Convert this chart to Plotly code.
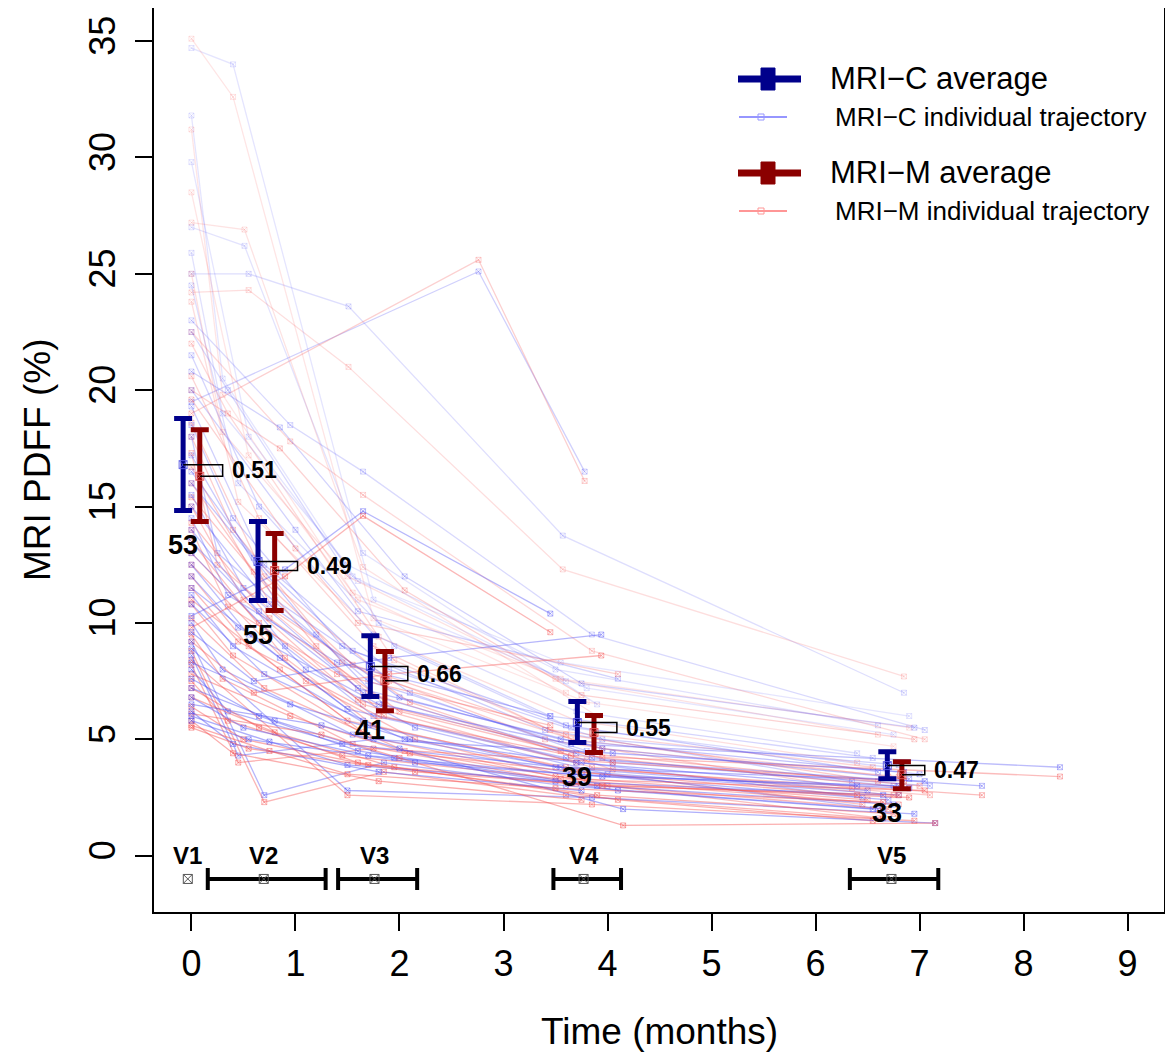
import plotly.graph_objects as go

# Individual trajectories: months since V1 and PDFF (%) by MRI-C and MRI-M (one row per patient)
visit_months = [
    [0, 0.40, 1.75, 3.80, 6.75],
    [0, 0.30, 1.55, 3.60],
    [0, 0.55, 1.60, 3.55, 6.90],
    [0, 0.51, 1.65, 3.90],
    [0, 0.55, 1.51, 3.57, 6.85],
    [0, 2.76, 3.78],
    [0, 0.30, 1.50, 3.50, 6.60],
    [0, 0.45, 1.80, 3.70, 6.40],
    [0, 0.95, 1.65, 3.85, 7.05],
    [0, 0.35, 1.95, 3.65, 6.70],
    [0, 0.65, 1.75, 3.45, 6.55],
    [0, 0.85, 2.05, 3.75, 6.95],
    [0, 1.00, 1.60, 4.10],
    [0, 0.70, 1.90, 3.95, 6.80],
    [0, 0.40, 1.45, 3.40, 6.35],
    [0, 0.25, 1.70, 3.80],
    [0, 0.80, 2.10, 4.05, 7.10],
    [0, 0.60, 1.55, 3.60, 6.60],
    [0, 1.20, 1.85, 3.70],
    [0, 0.50, 1.65, 3.85, 6.75],
    [0, 0.75, 2.00, 3.55, 7.00],
    [0, 0.35, 1.40, 3.45],
    [0, 0.90, 1.75, 3.75, 6.45],
    [0, 0.65, 1.60, 3.95, 6.90],
    [0, 1.10, 2.15, 4.00, 6.65],
    [0, 0.55, 1.50, 3.60, 7.60],
    [0, 0.45, 1.80, 3.65, 8.35],
    [0, 0.85, 1.65],
    [0, 0.40, 1.70, 3.50, 6.50],
    [0, 0.70, 2.05, 3.80, 6.80],
    [0, 0.90, 1.65, 3.45],
    [0, 0.30, 1.55, 3.70, 6.70],
    [0, 0.60, 1.90, 3.94],
    [0, 0.70, 1.85, 3.60, 6.60],
    [0, 1.50, 3.85, 6.95],
    [0, 0.45, 1.75, 4.05, 6.85],
    [0, 0.95, 2.10, 3.70, 6.40],
    [0, 0.35, 1.45, 3.55, 7.05],
    [0, 0.65, 1.60, 3.90, 6.75],
    [0, 0.80, 1.95, 4.10, 6.55],
    [0, 0.50, 1.70, 3.65, 6.90],
    [0, 1.25, 2.00, 4.15, 7.15],
    [0, 0.40, 1.80, 3.75],
    [0, 0.75, 1.50, 3.50, 6.65],
    [0, 0.55, 2.15, 3.95, 6.80],
]
pdff_c = [
    [34.7, 34.0, 11.0, 7.2, 5.2],
    [31.8, 20.5, 12.0, 7.5],
    [29.8, 18.0, 11.8, 8.3, 6.0],
    [27.0, 26.2, 13.0, 6.5],
    [25.0, 25.0, 23.6, 13.75, 7.0],
    [19.5, 25.1, 16.5],
    [25.9, 19.0, 12.5, 8.0, 5.6],
    [24.5, 16.0, 10.0, 6.2, 4.4],
    [23.0, 18.5, 16.5, 9.5, 5.4],
    [22.5, 20.0, 9.0, 5.5, 3.8],
    [21.5, 15.0, 9.5, 6.0, 4.2],
    [20.8, 18.4, 12.0, 7.4, 5.5],
    [20.0, 14.0, 10.5, 7.6],
    [19.3, 12.5, 8.0, 5.0, 3.9],
    [18.5, 14.5, 9.0, 5.4, 3.2],
    [18.0, 13.0, 7.5, 4.5],
    [17.2, 11.0, 7.0, 4.0, 3.0],
    [16.5, 12.8, 8.8, 5.6, 3.6],
    [16.0, 9.5, 6.5, 4.4],
    [15.5, 11.5, 7.0, 4.2, 3.0],
    [15.0, 10.8, 6.8, 5.0, 3.5],
    [14.5, 11.2, 8.3, 6.0],
    [14.0, 9.0, 6.0, 4.0, 2.5],
    [13.5, 10.5, 7.2, 4.6, 3.3],
    [13.0, 8.0, 5.5, 3.5, 2.0],
    [12.5, 9.5, 6.3, 4.2, 3.0],
    [12.0, 9.8, 6.5, 4.8, 3.8],
    [11.5, 8.5, 5.8],
    [11.2, 9.0, 5.6, 3.8, 2.8],
    [10.8, 7.8, 5.0, 3.6, 2.6],
    [10.3, 12.3, 14.8, 10.4],
    [10.0, 8.0, 5.2, 3.5, 2.4],
    [9.6, 7.5, 8.5, 9.5],
    [9.2, 2.6, 4.0, 3.0, 2.0],
    [8.9, 2.8, 2.5, 1.8],
    [8.6, 4.3, 5.0, 4.4, 3.6],
    [8.3, 6.5, 5.0, 4.0, 3.0],
    [8.0, 6.2, 4.8, 3.8, 3.2],
    [7.6, 6.0, 4.5, 3.0, 2.2],
    [7.2, 5.8, 4.2, 2.8, 2.0],
    [6.8, 5.5, 4.3, 3.5, 2.9],
    [6.5, 5.6, 4.6, 2.0, 1.4],
    [6.2, 4.8, 3.6, 2.8],
    [6.0, 4.9, 3.9, 3.2, 2.6],
    [5.8, 5.0, 4.0, 3.4, 3.0],
]
pdff_m = [
    [35.1, 32.6, 10.2, 6.6, 4.7],
    [31.2, 19.8, 11.3, 7.0],
    [28.5, 17.2, 11.0, 7.6, 5.5],
    [27.2, 26.9, 12.4, 6.0],
    [24.2, 24.3, 21.0, 12.3, 7.7],
    [19.0, 25.6, 16.1],
    [25.0, 18.2, 12.0, 7.6, 5.2],
    [23.8, 15.2, 9.4, 5.8, 4.0],
    [22.5, 17.8, 15.5, 8.8, 5.0],
    [22.0, 19.0, 8.4, 5.0, 3.4],
    [20.6, 14.5, 9.0, 5.4, 3.8],
    [20.0, 17.5, 11.4, 6.9, 5.0],
    [19.6, 13.2, 10.0, 7.8],
    [18.6, 12.0, 7.5, 4.6, 3.4],
    [18.0, 14.0, 8.3, 5.0, 2.9],
    [17.3, 12.5, 7.0, 4.1],
    [16.7, 10.5, 6.6, 3.7, 2.6],
    [16.0, 12.2, 8.2, 5.2, 3.2],
    [15.4, 9.0, 6.0, 4.0],
    [15.0, 11.0, 6.5, 3.8, 2.6],
    [14.3, 10.2, 6.2, 4.5, 3.0],
    [14.0, 10.7, 7.8, 5.6],
    [13.5, 8.5, 5.6, 3.6, 2.2],
    [13.0, 10.0, 6.7, 4.2, 2.9],
    [12.5, 7.5, 5.0, 3.0, 1.6],
    [12.0, 9.0, 5.8, 3.8, 2.6],
    [11.5, 9.2, 6.0, 4.3, 3.4],
    [11.0, 8.0, 5.3],
    [10.8, 8.6, 5.1, 3.4, 2.4],
    [10.2, 7.2, 4.5, 3.2, 2.2],
    [9.8, 12.0, 14.6, 9.6],
    [9.5, 7.6, 4.8, 3.1, 2.0],
    [9.2, 7.0, 7.8, 8.6],
    [8.8, 2.3, 3.6, 2.6, 1.6],
    [8.4, 2.6, 2.2, 1.5],
    [8.2, 4.0, 4.6, 4.0, 3.2],
    [7.8, 6.0, 4.4, 3.6, 2.6],
    [7.5, 5.8, 4.3, 3.3, 2.8],
    [7.2, 5.5, 4.0, 2.6, 1.8],
    [6.8, 5.3, 3.8, 2.4, 1.5],
    [6.4, 5.0, 3.9, 3.1, 2.5],
    [6.1, 5.2, 4.2, 1.3, 1.4],
    [5.8, 4.4, 3.2, 2.4],
    [5.6, 4.5, 3.5, 2.9, 2.3],
    [5.5, 4.6, 3.6, 3.0, 2.6],
]

# Group averages with error bars at each visit
avg_x_c = [-0.08, 0.64, 1.72, 3.71, 6.69]
avg_x_m = [0.08, 0.80, 1.86, 3.87, 6.83]
mean_c = [16.80, 12.64, 8.13, 5.72, 3.87]
low_c = [14.83, 10.96, 6.84, 4.86, 3.31]
high_c = [18.78, 14.36, 9.45, 6.62, 4.47]
mean_m = [16.30, 12.25, 7.52, 5.29, 3.48]
low_m = [14.36, 10.53, 6.23, 4.43, 2.88]
high_m = [18.30, 13.84, 8.77, 6.02, 4.04]
icc_labels = ['0.51', '0.49', '0.66', '0.55', '0.47']
n_labels = ['53', '55', '41', '39', '33']

# Visit windows shown along the bottom (V1 has no window)
visit_names = ['V1', 'V2', 'V3', 'V4', 'V5']
visit_mid = [-0.035, 0.695, 1.76, 3.77, 6.73]
window_mid = [0.695, 1.76, 3.77, 6.73]
window_lo = [0.157, 1.41, 3.48, 6.33]
window_hi = [1.29, 2.17, 4.13, 7.18]

FONT = 'Liberation Sans'
BLUE_DARK = '#00008B'
RED_DARK = '#8B0000'

fig = go.Figure()

# individual trajectories, paler when the baseline is higher
for t, c, m in zip(visit_months, pdff_c, pdff_m):
    a = max(0.15, min(0.48, 0.56 - 0.015 * c[0]))
    for vals, rgb in ((c, '80,80,245'), (m, '245,80,80')):
        col = f'rgba({rgb},{a:.2f})'
        fig.add_trace(go.Scatter(
            x=t, y=vals, mode='lines+markers',
            line=dict(color=col, width=1.3),
            marker=dict(symbol='square-x-open', size=5, color=col, line=dict(width=1, color=col)),
            showlegend=False, hoverinfo='skip'))

# averages with error bars
for xs, mu, lo, hi, col, mcol in ((avg_x_c, mean_c, low_c, high_c, BLUE_DARK, 'rgba(90,90,230,0.9)'),
                                  (avg_x_m, mean_m, low_m, high_m, RED_DARK, 'rgba(230,90,90,0.9)')):
    fig.add_trace(go.Scatter(
        x=xs, y=mu, mode='markers',
        marker=dict(symbol='square-x-open', size=8, color=mcol, line=dict(width=1, color=mcol)),
        error_y=dict(type='data', symmetric=False,
                     array=[h - v for h, v in zip(hi, mu)],
                     arrayminus=[v - l for v, l in zip(mu, lo)],
                     color=col, thickness=5, width=9),
        showlegend=False, hoverinfo='skip'))

# brackets joining the two averages, with agreement value and count
gap = 0.22
for i in range(5):
    xr = avg_x_m[i] + gap
    fig.add_trace(go.Scatter(
        x=[avg_x_c[i], xr, xr, avg_x_m[i]],
        y=[mean_c[i], mean_c[i], mean_m[i], mean_m[i]],
        mode='lines', line=dict(color='black', width=1.5),
        showlegend=False, hoverinfo='skip'))
    fig.add_annotation(x=xr, y=(mean_c[i] + mean_m[i]) / 2, text=f'<b>{icc_labels[i]}</b>',
                       showarrow=False, xanchor='left', yanchor='middle', xshift=7,
                       font=dict(family=FONT, size=23, color='black'))
    fig.add_annotation(x=avg_x_c[i], y=low_c[i], text=f'<b>{n_labels[i]}</b>',
                       showarrow=False, xanchor='center', yanchor='middle', yshift=-34,
                       font=dict(family=FONT, size=27, color='black'))

# visit windows
fig.add_trace(go.Scatter(
    x=window_mid, y=[-1.0] * len(window_mid), mode='markers',
    marker=dict(size=1, color='rgba(0,0,0,0)'),
    error_x=dict(type='data', symmetric=False,
                 array=[h - c for h, c in zip(window_hi, window_mid)],
                 arrayminus=[c - l for l, c in zip(window_lo, window_mid)],
                 color='black', thickness=4, width=11),
    showlegend=False, hoverinfo='skip'))
fig.add_trace(go.Scatter(
    x=visit_mid, y=[-1.0] * len(visit_mid), mode='markers',
    marker=dict(symbol='square-x-open', size=9, color='#555555', line=dict(width=1, color='#555555')),
    showlegend=False, hoverinfo='skip'))
for name, xm in zip(visit_names, visit_mid):
    fig.add_annotation(x=xm, y=0, text=f'<b>{name}</b>', showarrow=False,
                       xanchor='center', yanchor='middle',
                       font=dict(family=FONT, size=24, color='black'))

# the page puts the figure 8 px in from the top-left corner, so size the figure to fit
W, H, OFF = 1165, 1049, 8
L, R, T, B = 154 - OFF, 1164 - OFF, 0, 912 - OFF


def px(x):
    # screen x -> paper x
    return (x - OFF - L) / (R - L)


def py(y):
    # screen y -> paper y
    return (B - (y - OFF)) / (B - T)


# hand-made legend
legend_rows = [
    ('MRI\u2212C average', BLUE_DARK, True, 79, 31),
    ('MRI\u2212C individual trajectory', 'rgb(150,150,255)', False, 117, 26),
    ('MRI\u2212M average', RED_DARK, True, 173, 31),
    ('MRI\u2212M individual trajectory', 'rgb(255,150,150)', False, 211, 26),
]
for label, col, thick, y, fs in legend_rows:
    if thick:
        fig.add_shape(type='line', xref='paper', yref='paper', x0=px(738), x1=px(801), y0=py(y), y1=py(y),
                      line=dict(color=col, width=7))
        fig.add_shape(type='rect', xref='paper', yref='paper', x0=px(761), x1=px(775),
                      y0=py(y + 11), y1=py(y - 11), fillcolor=col, line=dict(color=col, width=1))
        tx = 828
    else:
        fig.add_shape(type='line', xref='paper', yref='paper', x0=px(739), x1=px(787), y0=py(y), y1=py(y),
                      line=dict(color=col, width=2))
        fig.add_shape(type='rect', xref='paper', yref='paper', x0=px(758), x1=px(764),
                      y0=py(y + 3), y1=py(y - 3), line=dict(color=col, width=1))
        tx = 833
    fig.add_annotation(x=px(tx), y=py(y), xref='paper', yref='paper', text=label, showarrow=False,
                       xanchor='left', yanchor='middle', font=dict(family=FONT, size=fs, color='black'))

# axis titles
fig.add_annotation(x=0.5, y=py(1031), xref='paper', yref='paper', text='Time (months)', showarrow=False,
                   xanchor='center', yanchor='middle', font=dict(family=FONT, size=37, color='black'))
fig.add_annotation(x=px(37), y=0.5, xref='paper', yref='paper', text='MRI PDFF (%)', showarrow=False,
                   textangle=-90, xanchor='center', yanchor='middle',
                   font=dict(family=FONT, size=37, color='black'))

axis_style = dict(showline=True, mirror=True, linecolor='black', linewidth=2,
                  ticks='outside', ticklen=17, tickwidth=2, tickcolor='black',
                  showgrid=False, zeroline=False, automargin=False,
                  tickfont=dict(family=FONT, size=36, color='black'))

fig.update_layout(
    width=W, height=H,
    margin=dict(l=L, r=W - R, t=T, b=H - B),
    paper_bgcolor='white', plot_bgcolor='white',
    showlegend=False,
    xaxis=dict(range=[-0.36, 9.35], tickvals=list(range(10)), ticklabelstandoff=2, **axis_style),
    yaxis=dict(range=[-2.42, 36.42], tickvals=list(range(0, 36, 5)), tickangle=-90,
               ticklabelstandoff=6, **axis_style),
)

fig.write_html('out.html')
